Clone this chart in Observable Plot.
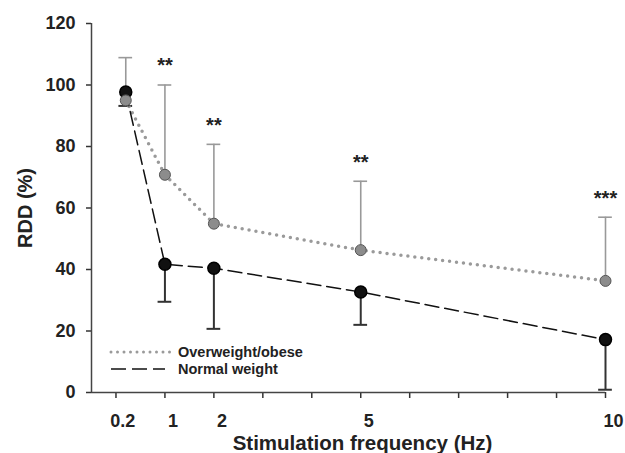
<!DOCTYPE html>
<html>
<head>
<meta charset="utf-8">
<script src="https://cdn.jsdelivr.net/npm/d3@7"></script>
<script src="https://cdn.jsdelivr.net/npm/@observablehq/plot@0.6"></script>
<style>
  body { margin: 0; background: white; }
  #wrap { position: relative; width: 625px; height: 453px; font-family: 'Liberation Sans', Arial, sans-serif; }
  #legend { position: absolute; left: 0; top: 0; pointer-events: none; }
</style>
</head>
<body>
<div id="wrap"></div>
<script>
// ---- data ----
const freq = [0.2, 1, 2, 5, 10];
const overMean = [95, 70.8, 54.9, 46.3, 36.3];
const overUpper = [108.9, 100, 80.7, 68.7, 57];
const normalMean = [97.7, 41.7, 40.4, 32.7, 17.2];
const normalLower = [93.2, 29.5, 20.7, 22, 0.9];
const signif = ["", "**", "**", "**", "***"];
const xTickLabels = ["0.2", "1", "2", "5", "10"];
const xMinorTicks = [0, 1, 2, 3, 4, 5, 6, 7, 8, 9, 10];
const yTicks = [0, 20, 40, 60, 80, 100, 120];
const seriesNames = ["Overweight/obese", "Normal weight"];

const over = freq.map((x, i) => ({x, mean: overMean[i], upper: overUpper[i], sig: signif[i]}));
const normal = freq.map((x, i) => ({x, mean: normalMean[i], lower: normalLower[i]}));
const xLabels = freq.map((x, i) => ({x, label: xTickLabels[i]}));

const cap = 0.14;
const chart = Plot.plot({
  width: 625, height: 453,
  marginLeft: 91, marginRight: 20, marginTop: 23, marginBottom: 61,
  style: {fontFamily: "'Liberation Sans', Arial, sans-serif", fontWeight: "bold", fontSize: "18px", color: "#333", background: "white", overflow: "visible"},
  x: {domain: [-0.5, 10]},
  y: {domain: [0, 120]},
  marks: [
    Plot.axisX({ticks: xMinorTicks, tickFormat: () => "", tickSize: 6, strokeWidth: 1.5, label: null}),
    Plot.axisY({ticks: yTicks, tickSize: 5, tickPadding: 11, strokeWidth: 1.5, label: null, fill: "#222"}),
    Plot.ruleX([-0.5], {y1: 0, y2: 120, stroke: "#444", strokeWidth: 1.5}),
    Plot.ruleY([0], {x1: -0.5, x2: 10, stroke: "#444", strokeWidth: 1.5}),
    // error bars
    Plot.ruleX(over, {x: "x", y1: "mean", y2: "upper", stroke: "#999", strokeWidth: 1.6}),
    Plot.ruleY(over, {y: "upper", x1: d => d.x - cap, x2: d => d.x + cap, stroke: "#999", strokeWidth: 1.6}),
    Plot.ruleX(normal, {x: "x", y1: "lower", y2: "mean", stroke: "#333", strokeWidth: 2}),
    Plot.ruleY(normal, {y: "lower", x1: d => d.x - cap, x2: d => d.x + cap, stroke: "#333", strokeWidth: 2}),
    // lines
    Plot.line(over, {x: "x", y: "mean", stroke: "#9a9a9a", strokeWidth: 3.5, strokeDasharray: "0 7", strokeLinecap: "round"}),
    Plot.line(normal, {x: "x", y: "mean", stroke: "#111", strokeWidth: 1.5, strokeDasharray: "14 6"}),
    // points
    Plot.dot(normal, {x: "x", y: "mean", r: 6, fill: "#111", stroke: "#000"}),
    Plot.dot(over, {x: "x", y: "mean", r: 5.5, fill: "#8c8c8c", stroke: "#555", strokeWidth: 1}),
    // significance
    Plot.text(over.filter(d => d.sig), {x: "x", y: "upper", text: "sig", dy: -19, fontSize: 20, fill: "#222"}),
    // x tick labels
    Plot.text(xLabels.slice(0, 1), {x: "x", text: "label", frameAnchor: "bottom", lineAnchor: "middle", dy: 29, dx: -3, fill: "#222"}),
    Plot.text(xLabels.slice(1), {x: "x", text: "label", frameAnchor: "bottom", lineAnchor: "middle", dy: 29, dx: 8, fill: "#222"}),
    // titles
    Plot.text(["Stimulation frequency (Hz)"], {frameAnchor: "bottom", textAnchor: "middle", lineAnchor: "middle", dy: 51, dx: 14, fontSize: 20.5, fill: "#222"}),
    Plot.text(["RDD (%)"], {frameAnchor: "left", textAnchor: "middle", lineAnchor: "middle", dx: -66, rotate: -90, fontSize: 20, fill: "#222"})
  ]
});
const wrap = document.getElementById("wrap");
wrap.appendChild(chart);

// legend overlay inside plot area
const lg = d3.select(wrap).append("svg").attr("id", "legend").attr("width", 625).attr("height", 453);
const styles = [
  {stroke: "#9a9a9a", width: 3, dash: "0 6.5", cap: "round", x2: 172},
  {stroke: "#111", width: 1.6, dash: "15 6", cap: "butt", x2: 165}
];
seriesNames.forEach((name, i) => {
  const yy = 352 + i * 17;
  const s = styles[i];
  lg.append("line").attr("x1", 111).attr("x2", s.x2).attr("y1", yy).attr("y2", yy)
    .attr("stroke", s.stroke).attr("stroke-width", s.width).attr("stroke-dasharray", s.dash).attr("stroke-linecap", s.cap);
  lg.append("text").attr("x", 178).attr("y", yy).attr("dy", "0.35em")
    .attr("font-family", "'Liberation Sans', Arial, sans-serif").attr("font-weight", "bold").attr("font-size", 14.5)
    .attr("fill", "#222").text(name);
});
</script>
</body>
</html>
